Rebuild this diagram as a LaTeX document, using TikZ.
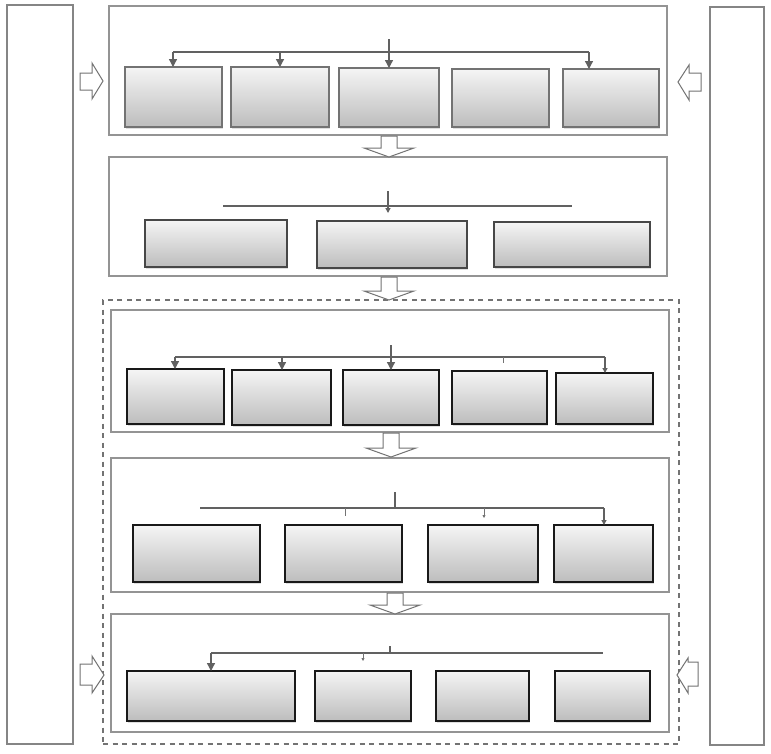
\documentclass[tikz,border=0pt]{standalone}
\usetikzlibrary{shadows,arrows.meta}
\begin{document}
\begin{tikzpicture}[x=1pt,y=-1pt,
  panel/.style={draw=black!42, line width=1.1pt, fill=white, inner sep=0pt, outer sep=0pt},
  side/.style={panel, draw=black!48},
  dashbox/.style={draw=black!55, line width=1.2pt, dash pattern=on 5pt off 4.5pt, inner sep=0pt, outer sep=0pt},
  boxA/.style={draw=black!55, line width=1.8pt, top color=black!4, bottom color=black!26, inner sep=0pt, outer sep=0pt,
     drop shadow={shadow xshift=1pt, shadow yshift=-1.5pt, opacity=0.25}},
  boxB/.style={boxA, draw=black!72},
  boxC/.style={boxA, draw=black!90, line width=2.4pt},
  bus/.style={draw=black!62, line width=1.3pt},
  arr/.style={bus, -{Triangle[width=8pt,length=8pt]}},
  tick/.style={draw=black!55, line width=0.8pt},
  barrow/.style={draw=black!55, line width=1pt, fill=white, line join=miter}
]
\newcommand\rbox[6]{\node[#1, minimum width={#5-#3}, minimum height={#6-#4}] (#2) at ({(#3+#5)/2},{(#4+#6)/2}) {};}
\newcommand\downblk[3]{% center x, top y, bottom y
  \draw[barrow] ({#1-8},#2) -- ({#1-8},{#3-9}) -- ({#1-25},{#3-9}) -- (#1,#3) -- ({#1+25},{#3-9}) -- ({#1+8},{#3-9}) -- ({#1+8},#2) -- cycle;}
\useasboundingbox (0,0) rectangle (771,753);
\fill[white] (0,0) rectangle (771,753);

% side columns
\rbox{side}{leftcol}{7}{5}{73}{744}
\rbox{side}{rightcol}{710}{7}{764}{745}

% dashed enclosure
\rbox{dashbox}{dash}{103}{300}{679}{744}

% panels
\rbox{panel}{p1}{109}{6}{667}{135}
\rbox{panel}{p2}{109}{157}{667}{276}
\rbox{panel}{p3}{111}{310}{669}{432}
\rbox{panel}{p4}{111}{458}{669}{592}
\rbox{panel}{p5}{111}{614}{669}{732}

% panel 1 boxes
\rbox{boxA}{b11}{125}{67}{222}{127}
\rbox{boxA}{b12}{231}{67}{329}{127}
\rbox{boxA}{b13}{339}{68}{439}{127}
\rbox{boxA}{b14}{452}{69}{549}{127}
\rbox{boxA}{b15}{563}{69}{659}{127}
% panel 2 boxes
\rbox{boxB}{b21}{145}{220}{287}{267}
\rbox{boxB}{b22}{317}{221}{467}{268}
\rbox{boxB}{b23}{494}{222}{650}{267}
% panel 3 boxes
\rbox{boxC}{b31}{127}{369}{224}{424}
\rbox{boxC}{b32}{232}{370}{331}{425}
\rbox{boxC}{b33}{343}{370}{439}{425}
\rbox{boxC}{b34}{452}{371}{547}{424}
\rbox{boxC}{b35}{556}{373}{653}{424}
% panel 4 boxes
\rbox{boxC}{b41}{133}{525}{260}{582}
\rbox{boxC}{b42}{285}{525}{402}{582}
\rbox{boxC}{b43}{428}{525}{538}{582}
\rbox{boxC}{b44}{554}{525}{653}{582}
% panel 5 boxes
\rbox{boxC}{b51}{127}{671}{295}{721}
\rbox{boxC}{b52}{315}{671}{411}{721}
\rbox{boxC}{b53}{436}{671}{529}{721}
\rbox{boxC}{b54}{555}{671}{650}{721}

% panel 1 connectors
\coordinate (p1in) at (389,39);
\coordinate (p1L) at (173,52);
\coordinate (p1M) at (280,52);
\coordinate (p1R) at (589,52);
\draw[bus] (p1L) -- (p1R);
\draw[arr] (p1in) -- (p1in |- b13.north);
\draw[arr] (p1L) -- (p1L |- b11.north);
\draw[arr] (p1M) -- (p1M |- b12.north);
\draw[arr] (p1R) -- (p1R |- b15.north);

% panel 2 connectors
\coordinate (p2in) at (388,191);
\coordinate (p2L) at (223,206);
\coordinate (p2R) at (572,206);
\coordinate (p2hit) at (388,213);
\draw[bus] (p2L) -- (p2R);
\draw[bus, -{Triangle[width=5pt,length=5pt]}] (p2in) -- (p2hit);

% panel 3 connectors
\coordinate (p3in) at (391,345);
\coordinate (p3L) at (175,357);
\coordinate (p3M) at (282,357);
\coordinate (p3T) at (503,357);
\coordinate (p3R) at (605,357);
\draw[bus] (p3L) -- (p3R);
\draw[arr] (p3in) -- (p3in |- b33.north);
\draw[arr] (p3L) -- (p3L |- b31.north);
\draw[arr] (p3M) -- (p3M |- b32.north);
\draw[tick] (p3T) -- ++(0,6);
\draw[bus, -{Triangle[width=5pt,length=5pt]}] (p3R) -- (p3R |- b35.north);

% panel 4 connectors
\coordinate (p4in) at (395,492);
\coordinate (p4L) at (200,508);
\coordinate (p4T) at (345,508);
\coordinate (p4U) at (484,508);
\coordinate (p4R) at (604,508);
\draw[bus] (p4L) -- (p4R);
\draw[bus] (p4in) -- (p4in |- p4L);
\draw[tick] (p4T) -- ++(0,8);
\draw[tick, -{Triangle[width=3pt,length=3pt]}] (p4U) -- ++(0,10);
\draw[bus, -{Triangle[width=5pt,length=5pt]}] (p4R) -- (p4R |- b44.north);

% panel 5 connectors
\coordinate (p5in) at (390,646);
\coordinate (p5L) at (211,653);
\coordinate (p5T) at (363,653);
\coordinate (p5R) at (603,653);
\draw[bus] (p5L) -- (p5R);
\draw[bus] (p5in) -- (p5in |- p5L);
\draw[arr] (p5L) -- (p5L |- b51.north);
\draw[tick, -{Triangle[width=3pt,length=3pt]}] (p5T) -- ++(0,8);

% block arrows between panels
\downblk{389}{136}{157}
\downblk{389}{277}{300}
\downblk{391}{433}{457}
\downblk{395}{593}{614}

% side block arrows
\draw[barrow] (80,73) -- (92,73) -- (92,63) -- (103,81) -- (92,99) -- (92,90) -- (80,90) -- cycle;
\draw[barrow] (701,73) -- (689,73) -- (689,65) -- (678,82) -- (689,100) -- (689,91) -- (701,91) -- cycle;
\draw[barrow] (80,664) -- (92,664) -- (92,656) -- (104,675) -- (92,693) -- (92,685) -- (80,685) -- cycle;
\draw[barrow] (698,662) -- (688,662) -- (688,658) -- (677,675) -- (688,693) -- (688,686) -- (698,686) -- cycle;
\end{tikzpicture}
\end{document}
